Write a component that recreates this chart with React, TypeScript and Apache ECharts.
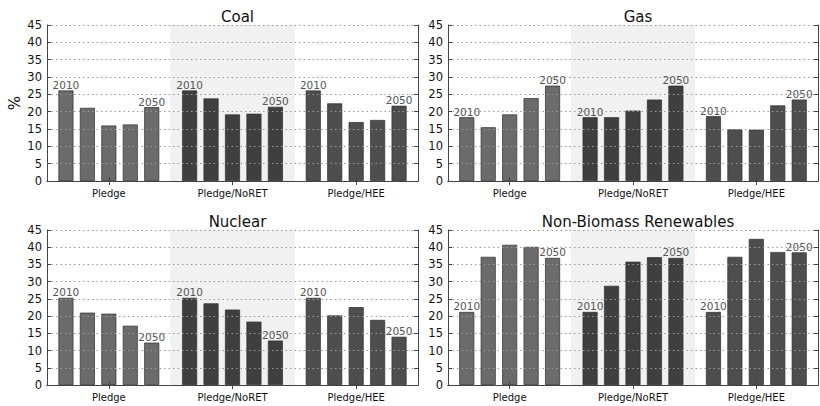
import React, { useEffect, useRef } from "react";
import * as echarts from "echarts";

const groups = ["Pledge", "Pledge/NoRET", "Pledge/HEE"];
const years = ["2010", "2020", "2030", "2040", "2050"];
const titles = ["Coal", "Gas", "Nuclear", "Non-Biomass Renewables"];

// values per panel: [group][year]
const coal = [
  [26.1, 21.1, 16.0, 16.3, 21.3],
  [26.1, 23.8, 19.2, 19.4, 21.4],
  [26.1, 22.4, 17.0, 17.6, 21.7],
];
const gas = [
  [18.4, 15.5, 19.2, 23.9, 27.5],
  [18.4, 18.4, 20.3, 23.5, 27.5],
  [18.7, 14.9, 14.8, 21.8, 23.5],
];
const nuclear = [
  [25.3, 21.0, 20.7, 17.2, 12.3],
  [25.3, 23.7, 21.9, 18.4, 12.9],
  [25.3, 20.2, 22.6, 18.9, 14.0],
];
const renewables = [
  [21.2, 37.2, 40.7, 40.1, 36.9],
  [21.2, 28.8, 35.8, 37.1, 36.9],
  [21.2, 37.2, 42.4, 38.6, 38.5],
];
const panels = [coal, gas, nuclear, renewables];

const groupColors = ["#6b6b6b", "#3f3f3f", "#4e4e4e"];
const FONT = "DejaVu Sans";

export default function App() {
  const ref = useRef<HTMLDivElement>(null);
  useEffect(() => {
    document.body.style.margin = "0";
    const chart = echarts.init(ref.current!, null, { renderer: "svg" });
    const gridRects = [
      { left: 47, top: 25, width: 371, height: 156 },
      { left: 448, top: 25, width: 370, height: 156 },
      { left: 47, top: 230, width: 371, height: 155 },
      { left: 448, top: 230, width: 370, height: 155 },
    ];
    const frame = { show: true, lineStyle: { color: "#444", width: 1 } };
    const tick = { show: true, inside: true, length: 4, lineStyle: { color: "#444" } };
    const xAxis: any[] = [];
    const yAxis: any[] = [];
    const series: any[] = [];
    const title: any[] = [];
    gridRects.forEach((g, p) => {
      title.push({
        text: titles[p],
        left: g.left + g.width / 2,
        top: g.top - 21,
        textAlign: "center",
        textStyle: { fontFamily: FONT, fontSize: 15, fontWeight: "normal", color: "#111" },
      });
      xAxis.push({
        type: "category",
        gridIndex: p,
        data: groups,
        position: "bottom",
        axisLine: frame,
        axisTick: { ...tick, alignWithLabel: true },
        axisLabel: { fontFamily: FONT, fontSize: 10, color: "#111", margin: 7 },
        splitLine: { show: false },
        z: 3,
      });
      xAxis.push({
        type: "category",
        gridIndex: p,
        data: groups,
        position: "top",
        axisLine: frame,
        axisTick: { ...tick, alignWithLabel: true },
        axisLabel: { show: false },
        splitLine: { show: false },
        z: 3,
      });
      yAxis.push({
        type: "value",
        gridIndex: p,
        min: 0,
        max: 45,
        interval: 5,
        position: "left",
        name: p === 0 ? "%" : "",
        nameLocation: "middle",
        nameGap: 25,
        nameTextStyle: { fontFamily: FONT, fontSize: 15, color: "#111" },
        axisLine: frame,
        axisTick: tick,
        axisLabel: { fontFamily: FONT, fontSize: 11.5, color: "#111", margin: 5 },
        splitLine: { show: true, lineStyle: { type: [1.5, 3], color: "#999", width: 1 } },
        z: 3,
      });
      yAxis.push({
        type: "value",
        gridIndex: p,
        min: 0,
        max: 45,
        interval: 5,
        position: "right",
        axisLine: frame,
        axisTick: tick,
        axisLabel: { show: false },
        splitLine: { show: false },
        z: 3,
      });
      // shaded middle group
      series.push({
        type: "bar",
        xAxisIndex: p * 2 + 1,
        yAxisIndex: p * 2 + 1,
        barWidth: "100%",
        silent: true,
        z: 0,
        itemStyle: { color: "#f1f1f1", borderColor: "#e2e2e2", borderWidth: 0.5 },
        data: groups.map((_, gi) => (gi === 1 ? 45 : "-")),
      });
      const data = panels[p];
      years.forEach((yr, yi) => {
        const labelled = yi === 0 || yi === years.length - 1;
        series.push({
          type: "bar",
          name: yr,
          xAxisIndex: p * 2,
          yAxisIndex: p * 2,
          barWidth: 15,
          barGap: "43%",
          z: 2,
          label: {
            show: labelled,
            position: "top",
            distance: 0,
            formatter: yr,
            fontFamily: FONT,
            fontSize: 10.5,
            color: "#555",
          },
          data: groups.map((_, gi) => ({
            value: data[gi][yi],
            itemStyle: { color: groupColors[gi], borderColor: "#2e2e2e", borderWidth: 0.7 },
          })),
        });
      });
    });
    chart.setOption({
      animation: false,
      backgroundColor: "#ffffff",
      title,
      grid: gridRects.map((g) => ({ ...g, containLabel: false })),
      xAxis,
      yAxis,
      series,
    });
    return () => chart.dispose();
  }, []);
  return <div ref={ref} style={{ width: 820, height: 406 }} />;
}
